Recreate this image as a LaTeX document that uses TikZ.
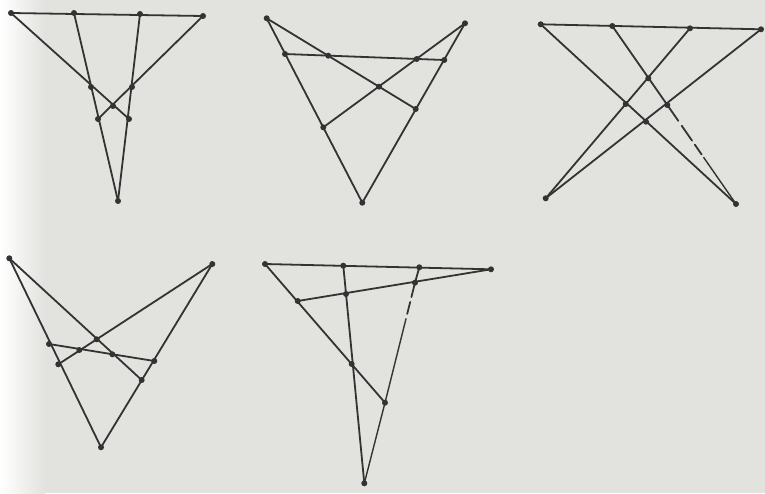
\documentclass[tikz,border=0pt]{standalone}
\usetikzlibrary{calc}
\definecolor{bg}{RGB}{226,226,223}
\definecolor{ink}{RGB}{52,50,50}
\tikzset{
  ln/.style={draw=ink, line width=1.8pt, line cap=round},
  lnthin/.style={draw=ink, line width=1.4pt, line cap=round},
  dot/.style={circle, fill=ink, inner sep=0pt, minimum size=6pt},
}
\begin{document}
\begin{tikzpicture}[x=1pt,y=-1pt]
\useasboundingbox (0,0) rectangle (765,493);
\fill[bg] (0,0) rectangle (765,493);
\shade[left color=white, right color=bg] (0,0) rectangle (45,493);
% ---------- Figure 1 ----------
\coordinate (a1) at (11,13);
\coordinate (b1) at (74,13);
\coordinate (c1) at (140,14);
\coordinate (d1) at (203,16);
\coordinate (e1) at (91,87);
\coordinate (f1) at (132,87);
\coordinate (g1) at (113,106);
\coordinate (h1) at (98,119);
\coordinate (i1) at (129,119);
\coordinate (j1) at (118,201);
\draw[ln] (a1) -- (d1);
\draw[ln] (a1) -- (i1);
\draw[ln] (d1) -- (h1);
\draw[ln] (b1) -- (j1);
\draw[ln] (c1) -- (j1);
% ---------- Figure 2 ----------
\coordinate (a2) at (266.7,18.3);
\coordinate (b2) at (465,23.3);
\coordinate (c2) at (285,54);
\coordinate (d2) at (328.3,55.7);
\coordinate (e2) at (416.7,59);
\coordinate (f2) at (444.3,60);
\coordinate (g2) at (379,86.7);
\coordinate (h2) at (415.7,109);
\coordinate (i2) at (323.3,127.3);
\coordinate (j2) at (362.3,202.7);
\draw[ln] (c2) -- (f2);
\draw[ln] (a2) -- (h2);
\draw[ln] (b2) -- (i2);
\draw[ln] (a2) -- (j2);
\draw[ln] (b2) -- (j2);
% ---------- Figure 3 ----------
\coordinate (a3) at (540.7,24.3);
\coordinate (b3) at (612.3,26);
\coordinate (c3) at (690,28.3);
\coordinate (d3) at (761,29.3);
\coordinate (e3) at (648.3,78.3);
\coordinate (f3) at (625.7,104);
\coordinate (g3) at (667.3,105);
\coordinate (h3) at (646,121.7);
\coordinate (i3) at (545.7,198.3);
\coordinate (j3) at (736,204);
\draw[ln] (a3) -- (d3);
\draw[ln] (a3) -- (j3);
\draw[ln] (b3) -- (g3);
\draw[ln] (g3) -- ($(g3)!0.16!(j3)$);
\draw[ln] ($(g3)!0.21!(j3)$) -- ($(g3)!0.36!(j3)$);
\draw[ln] ($(g3)!0.40!(j3)$) -- ($(g3)!0.50!(j3)$);
\draw[lnthin] ($(g3)!0.53!(j3)$) -- (j3);
\draw[ln] (c3) -- (i3);
\draw[ln] (d3) -- (i3);
% ---------- Figure 4 ----------
\coordinate (a4) at (9.3,258.3);
\coordinate (b4) at (212.3,264);
\coordinate (c4) at (49,344);
\coordinate (d4) at (79.3,350);
\coordinate (e4) at (96.7,339.3);
\coordinate (f4) at (112.3,354.3);
\coordinate (g4) at (154.3,361);
\coordinate (h4) at (58.3,364.3);
\coordinate (i4) at (141.7,380);
\coordinate (j4) at (101,447.3);
\draw[ln] (c4) -- (g4);
\draw[ln] (a4) -- (i4);
\draw[ln] (b4) -- (h4);
\draw[ln] (a4) -- (j4);
\draw[ln] (b4) -- (j4);
% ---------- Figure 5 ----------
\coordinate (a5) at (265,264);
\coordinate (b5) at (343.3,265.7);
\coordinate (c5) at (419.3,267.3);
\coordinate (d5) at (491,269.3);
\coordinate (e5) at (297.7,301);
\coordinate (f5) at (346,294);
\coordinate (g5) at (415,282.7);
\coordinate (h5) at (351.7,364);
\coordinate (i5) at (385,402.7);
\coordinate (j5) at (364.3,483.3);
\draw[ln] (a5) -- (d5);
\draw[ln] (d5) -- (e5);
\draw[ln] (a5) -- (i5);
\draw[ln] (b5) -- (j5);
\draw[ln] (c5) -- (g5);
\draw[ln] (g5) -- ($(g5)!0.12!(i5)$);
\draw[ln] ($(g5)!0.16!(i5)$) -- ($(g5)!0.26!(i5)$);
\draw[lnthin] ($(g5)!0.30!(i5)$) -- (i5);
\draw[lnthin] (i5) -- (j5);
% ---------- dots ----------
\foreach \p in {a1,b1,c1,d1,e1,f1,g1,h1,i1,j1,
                a2,b2,c2,d2,e2,f2,g2,h2,i2,j2,
                a3,b3,c3,d3,e3,f3,g3,h3,i3,j3,
                a4,b4,c4,d4,e4,f4,g4,h4,i4,j4,
                a5,b5,c5,d5,e5,f5,g5,h5,i5,j5}
  \node[dot] (n\p) at (\p) {};
\end{tikzpicture}
\end{document}
